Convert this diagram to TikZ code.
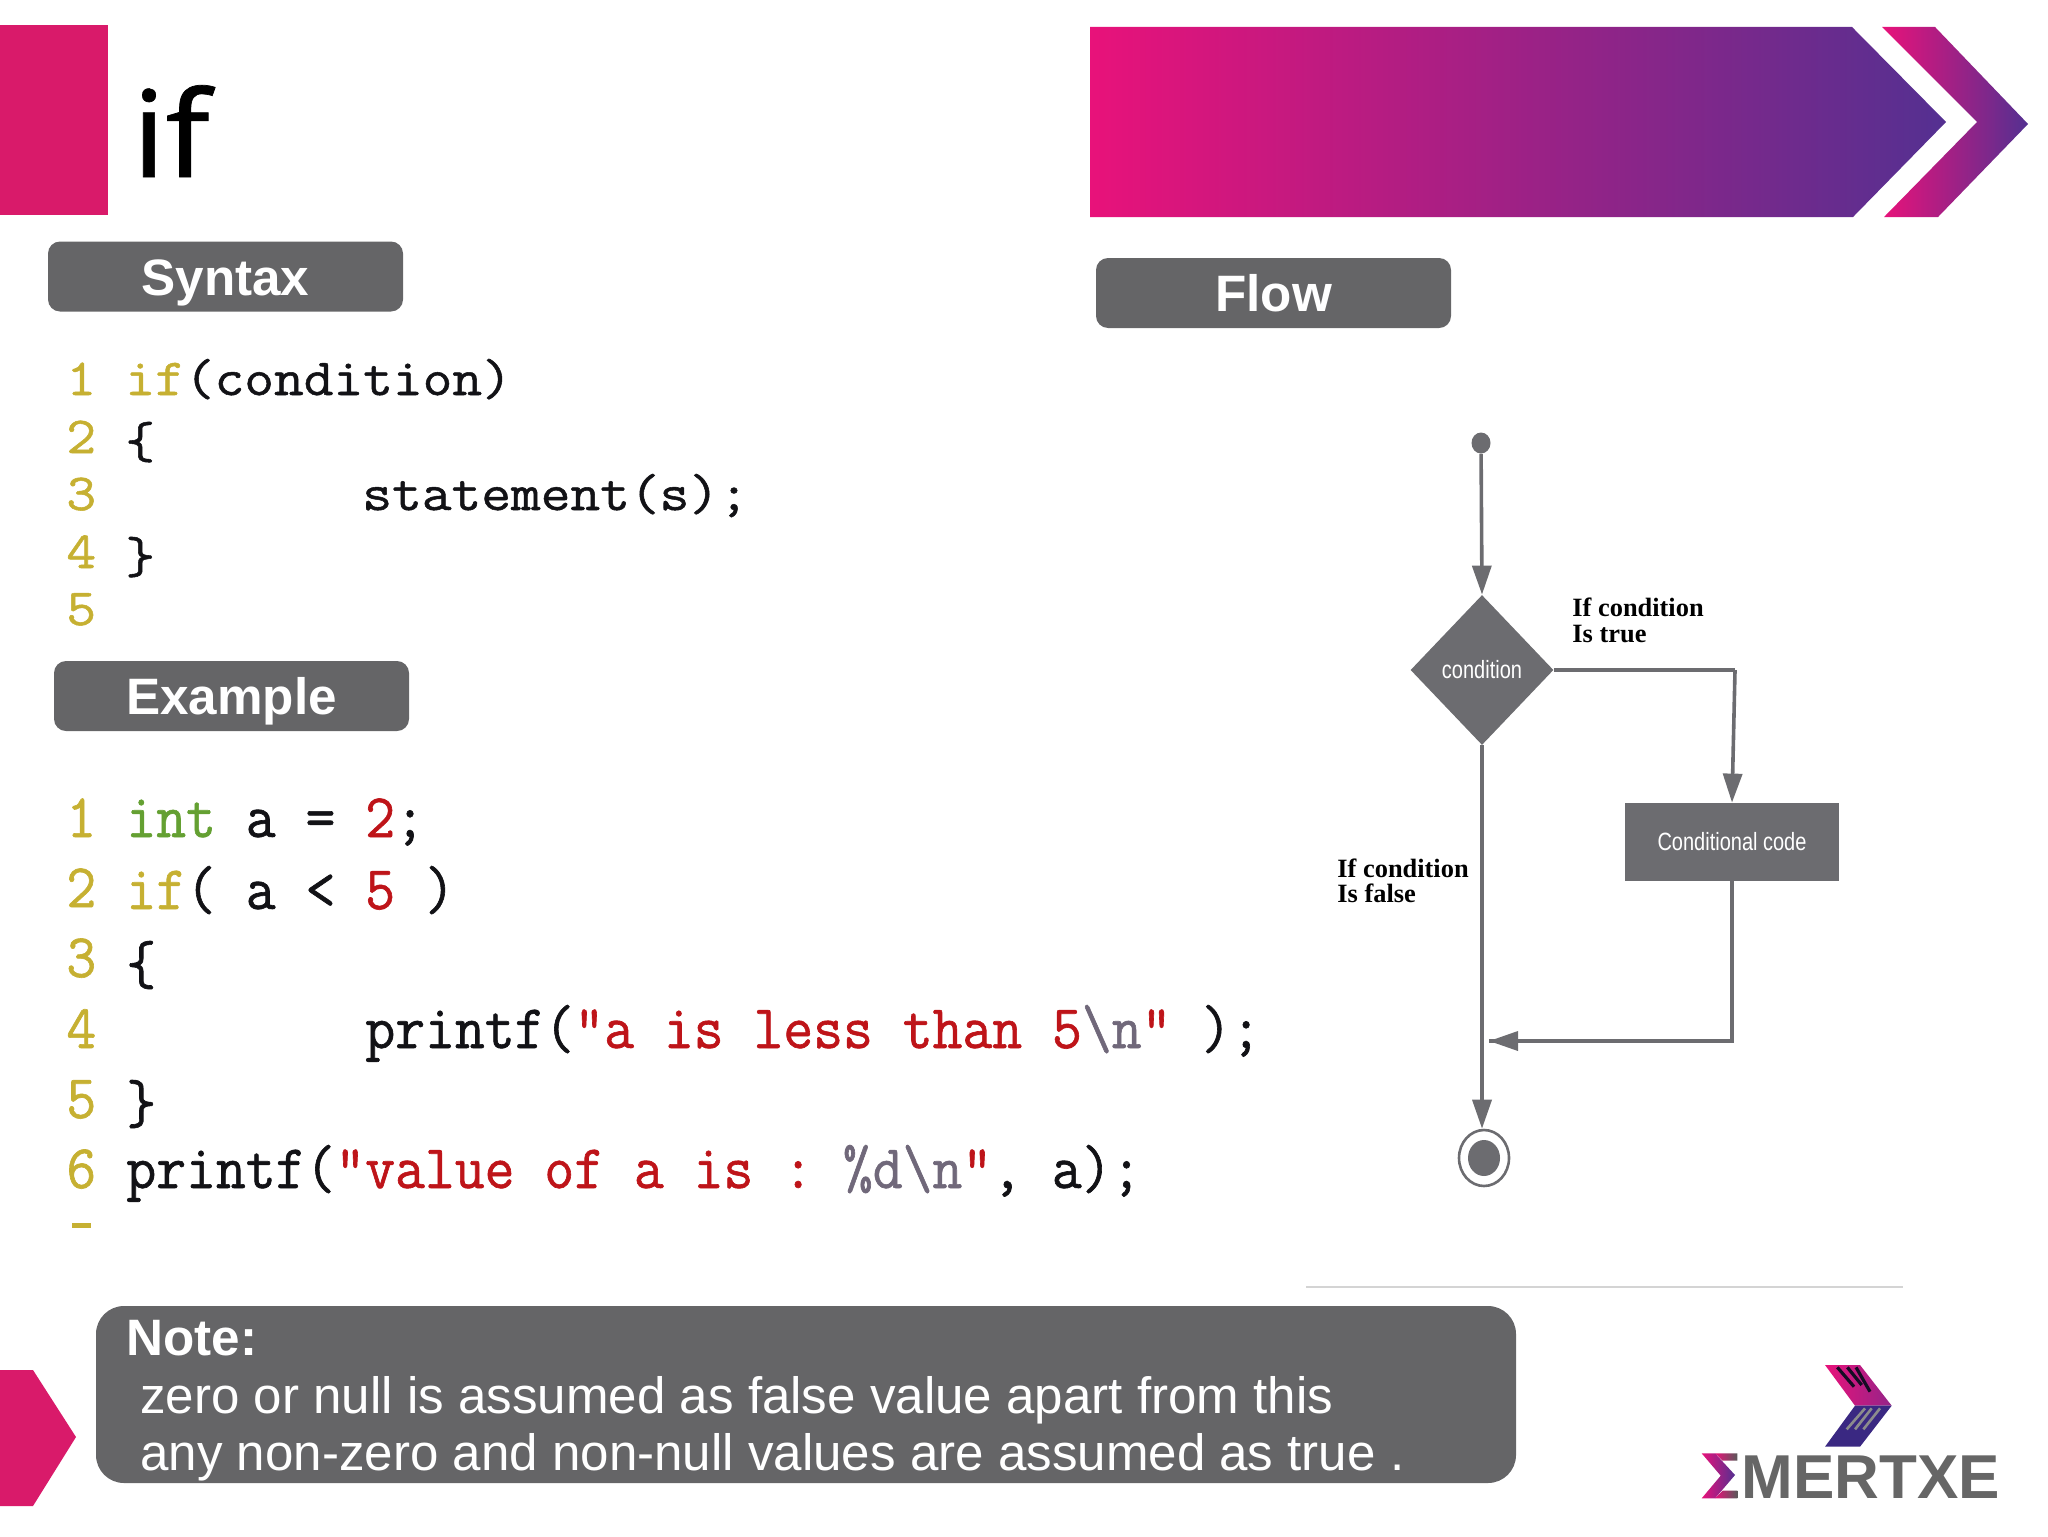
\documentclass[tikz,border=0pt]{standalone}
\usepackage{fontspec}
\usetikzlibrary{shapes.geometric,arrows.meta}
\setmainfont{Liberation Sans}
\newfontfamily\codeA[FakeStretch=0.935,FakeBold=1]{Latin Modern Mono}
\newfontfamily\codeB[FakeStretch=1.11,FakeBold=1]{Latin Modern Mono}
\newfontfamily\narrowsans[FakeStretch=0.8]{Liberation Sans}
\newfontfamily\labelserif{Liberation Serif}
\newfontfamily\titlefont[FakeBold=0.6,FakeStretch=1.07]{Noto Sans}
\definecolor{pinkA}{RGB}{232,18,122}
\definecolor{midA}{RGB}{176,31,133}
\definecolor{purpleA}{RGB}{84,48,145}
\definecolor{blockred}{RGB}{217,26,106}
\definecolor{btngrey}{RGB}{101,101,103}
\definecolor{flowgrey}{RGB}{108,108,112}
\definecolor{numc}{RGB}{198,176,50}
\definecolor{kwgreen}{RGB}{100,160,50}
\definecolor{strred}{RGB}{190,20,25}
\definecolor{escgrey}{RGB}{112,104,122}
\definecolor{ink}{RGB}{18,18,22}
\definecolor{logodark}{RGB}{58,40,130}
\tikzset{
  btn/.style={rectangle,rounded corners=6pt,fill=btngrey,minimum width=177.5pt,minimum height=35pt,inner sep=0pt,
    text=white,font=\bfseries\fontsize{25.6pt}{26pt}\selectfont,text height=19pt,text depth=0.5pt},
  notetext/.style={anchor=base west,inner sep=0pt,text=white,font=\fontsize{25.55pt}{26pt}\selectfont},
  ca/.style={anchor=base west,inner sep=0pt,text=ink,font=\codeA\fontsize{31pt}{31pt}\selectfont},
  cb/.style={anchor=base west,inner sep=0pt,text=ink,font=\codeB\fontsize{26pt}{26pt}\selectfont},
  flowlabel/.style={anchor=base west,inner sep=0pt,text=black,font=\labelserif\bfseries\fontsize{13.2pt}{14pt}\selectfont},
  flowline/.style={draw=flowgrey,line width=1.8pt},
  flowarrow/.style={flowline,-{Triangle[length=14.5pt,width=9.5pt]}},
  flowbox/.style={fill=flowgrey,text=white,inner sep=0pt,font=\narrowsans\fontsize{12.5pt}{13pt}\selectfont},
}
\begin{document}
\begin{tikzpicture}[x=0.5pt,y=-0.5pt]
\useasboundingbox (0,0) rectangle (2048,1536);
% top decoration
\fill[blockred] (0,25) rectangle (108,215);
\node[anchor=base west,inner sep=0pt,text=black,font=\titlefont\fontsize{60pt}{60pt}\selectfont] (title) at (132,177) {if};
\shade[left color=pinkA,middle color=midA,right color=purpleA] (1090,27) -- (1852,27) -- (1946,122) -- (1853,217) -- (1090,217) -- cycle;
\shade[left color=pinkA,right color=purpleA] (1882,27) -- (1935,27) -- (2028,124) -- (1938,217) -- (1884,217) -- (1977,122) -- cycle;
% buttons
\node[btn] (syntax) at (225.5,276.5) {Syntax};
\node[btn] (flow) at (1273.5,293) {Flow};
\node[btn] (example) at (231.5,696) {Example};
% syntax code
\node[cb,text=numc] (sn1) at (66,395) {1};
\node[cb,text=numc] (sn2) at (66,453) {2};
\node[cb,text=numc] (sn3) at (66,510) {3};
\node[cb,text=numc] (sn4) at (66,568) {4};
\node[cb,text=numc] (sn5) at (66,625) {5};
\node[cb] (s1) at (125,395) {\textcolor{numc}{if}(condition)};
\node[cb] (s2) at (125,458) {\{};
\node[cb] (s3) at (362,510) {statement(s);};
\node[cb] (s4) at (125,573) {\}};
% example code
\node[ca,text=numc] (en1) at (66,837) {1};
\node[ca,text=numc] (en2) at (66,907) {2};
\node[ca,text=numc] (en3) at (66,977) {3};
\node[ca,text=numc] (en4) at (66,1048) {4};
\node[ca,text=numc] (en5) at (66,1118) {5};
\node[ca,text=numc] (en6) at (66,1188) {6};
\node[ca] (e1) at (126,837) {\textcolor{kwgreen}{int}\ a\ =\ \textcolor{strred}{2};};
\node[ca] (e2) at (126,909) {\textcolor{numc}{if}(\ a\ <\ \textcolor{strred}{5}\ )};
\node[ca] (e3) at (126,984) {\{};
\node[ca] (e4) at (365,1048) {printf(\textcolor{strred}{"a\ is\ less\ than\ 5}\textcolor{escgrey}{\textbackslash n}\textcolor{strred}{"}\ );};
\node[ca] (e5) at (126,1123) {\}};
\node[ca] (e6) at (126,1188) {printf(\textcolor{strred}{"value\ of\ a\ is\ :\ }\textcolor{escgrey}{\%d\textbackslash n}\textcolor{strred}{"},\ a);};
\fill[numc] (72,1223) rectangle (91,1228);
% flow panel rule
\draw[line width=1.3pt,draw=black!17] (1306,1287) -- (1903,1287);
% flow nodes
\node[ellipse,fill=flowgrey,minimum width=9.5pt,minimum height=10.5pt,inner sep=0pt] (start) at (1481,443) {};
\node[diamond,flowbox,minimum width=71.5pt,minimum height=75pt,aspect=0.95] (cond) at (1482,670) {condition};
\node[rectangle,flowbox,minimum width=107pt,minimum height=39pt] (code) at (1732,842) {Conditional code};
\node[ellipse,draw=flowgrey,line width=1.3pt,fill=white,minimum width=25pt,minimum height=28pt,inner sep=0pt] (final) at (1484,1158) {};
\node[ellipse,fill=flowgrey,minimum width=16pt,minimum height=18pt,inner sep=0pt] (finalin) at (1484,1158) {};
\coordinate (turn) at (1735,670);
\coordinate (corner) at (1732,1041);
\coordinate (merge) at (1489,1041);
% flow connectors
\draw[flowarrow] (start) -- (cond.north);
\draw[flowline] (cond.east) -- (turn);
\draw[flowarrow] (turn) -- (code.north);
\draw[flowarrow] (cond.south) -- (cond.south |- final.north);
\draw[flowline,line join=miter] (code.south) -- (corner) -- (merge);
\draw[flowarrow] (corner) -- (merge);
% flow labels
\node[flowlabel] (lt1) at (1572,616) {If condition};
\node[flowlabel] (lt2) at (1572,642) {Is true};
\node[flowlabel] (lf1) at (1337,877) {If condition};
\node[flowlabel] (lf2) at (1337,902) {Is false};
% note
\fill[blockred] (0,1370) -- (33,1370) -- (76,1437) -- (33,1506) -- (0,1506) -- cycle;
\node[rectangle,rounded corners=14pt,fill=btngrey,minimum width=710pt,minimum height=88.5pt,inner sep=0pt] (note) at (806,1394.5) {};
\node[notetext,font=\bfseries\fontsize{25.6pt}{26pt}\selectfont] (n1) at (126,1355) {Note:};
\node[notetext] (n2) at (140,1413) {zero or null is assumed as false value apart from this};
\node[notetext] (n3) at (140,1470) {any non-zero and non-null values are assumed as true .};
% logo
\begin{scope}[shift={(1650,1340)},x=0.16667pt,y=-0.16667pt]
\shade[left color=pinkA,right color=midA!70!purpleA] (525,75) -- (630,75) -- (725,197) -- (615,197) -- cycle;
\fill[logodark] (615,197) -- (725,197) -- (630,320) -- (525,320) -- cycle;
\draw[line width=1.6pt,draw=black!75!purpleA] (562,82) -- (612,140) (592,82) -- (635,135) (618,82) -- (660,155);
\draw[line width=1.3pt,draw=black!45] (645,205) -- (590,268) (665,205) -- (615,268) (690,205) -- (640,268);
\shade[left color=pinkA,right color=black!65] (195,340) -- (262,340) -- (262,362) -- (218,362) -- cycle;
\shade[left color=pinkA,right color=black!65] (218,452) -- (262,452) -- (262,475) -- (195,475) -- cycle;
\shade[left color=pinkA,right color=purpleA] (155,340) -- (195,340) -- (255,405) -- (195,475) -- (155,475) -- (212,407) -- cycle;
\end{scope}
\node[anchor=base west,inner sep=0pt,text=black!60,font=\bfseries\fontsize{31pt}{32pt}\selectfont] (wordmark) at (1741,1498) {MERTXE};
\end{tikzpicture}
\end{document}
